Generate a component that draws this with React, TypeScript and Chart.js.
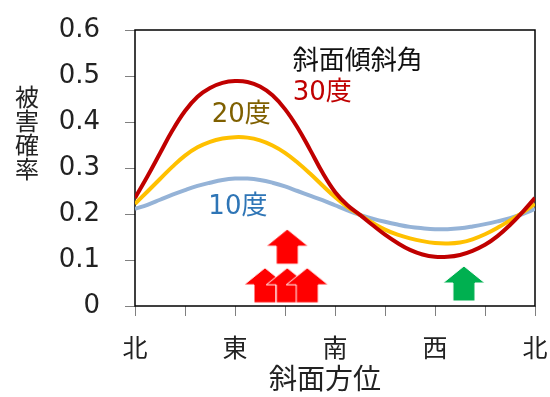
import React, { useEffect, useRef } from 'react';
import { Chart, registerables } from 'chart.js';
Chart.register(...registerables);

// Slope aspect in degrees (0 = 北, 90 = 東, 180 = 南, 270 = 西, 360 = 北)
const ANGLES = [
  0, 11.25, 22.5, 33.75, 45, 56.25, 67.5, 78.75, 90, 101.25, 112.5, 123.75, 135, 146.25, 157.5, 168.75,
  180, 191.25, 202.5, 213.75, 225, 236.25, 247.5, 258.75, 270, 281.25, 292.5, 303.75, 315, 326.25, 337.5, 348.75, 360,
];
const SLOPE_30 = [
  0.235, 0.282, 0.332, 0.382, 0.424, 0.455, 0.474, 0.485, 0.489, 0.487, 0.477, 0.458, 0.428, 0.388, 0.340, 0.290,
  0.248, 0.219, 0.198, 0.176, 0.155, 0.137, 0.122, 0.112, 0.107, 0.107, 0.111, 0.120, 0.133, 0.152, 0.176, 0.204, 0.235,
];
const SLOPE_20 = [
  0.222, 0.249, 0.276, 0.303, 0.327, 0.345, 0.357, 0.364, 0.367, 0.366, 0.360, 0.349, 0.333, 0.312, 0.288, 0.262,
  0.237, 0.215, 0.198, 0.181, 0.166, 0.155, 0.147, 0.141, 0.137, 0.136, 0.138, 0.145, 0.156, 0.170, 0.186, 0.203, 0.222,
];
const SLOPE_10 = [
  0.211, 0.220, 0.231, 0.242, 0.252, 0.261, 0.268, 0.274, 0.277, 0.277, 0.274, 0.268, 0.260, 0.250, 0.240, 0.230,
  0.219, 0.208, 0.198, 0.190, 0.183, 0.177, 0.172, 0.169, 0.167, 0.167, 0.169, 0.173, 0.178, 0.184, 0.191, 0.200, 0.211,
];

const X_TICK_LABELS = ['北', '', '東', '', '南', '', '西', '', '北'];
const X_TITLE = '斜面方位';
const Y_TITLE = '被害確率';

// Arrow markers (aspect, value at arrow centre)
const RED_ARROW_X = [117, 137, 155, 137];
const RED_ARROW_Y = [0.045, 0.045, 0.045, 0.129];
const GREEN_ARROW_X = [296];
const GREEN_ARROW_Y = [0.049];

// In-plot labels
const LABEL_TEXTS = ['斜面傾斜角', '30度', '20度', '10度'];
const LABEL_X = [142, 142, 69, 66];
const LABEL_Y = [0.530, 0.463, 0.415, 0.215];
const LABEL_COLORS = ['#111111', '#C00000', '#7F6000', '#2E75B6'];

const FONT = '"DejaVu Sans", "Noto Sans CJK JP", sans-serif';

function makeArrow(color: string): HTMLCanvasElement {
  const c = document.createElement('canvas');
  c.width = 44;
  c.height = 37;
  const g = c.getContext('2d')!;
  g.beginPath();
  g.moveTo(22, 1);
  g.lineTo(43, 18);
  g.lineTo(33, 18);
  g.lineTo(33, 36);
  g.lineTo(11, 36);
  g.lineTo(11, 18);
  g.lineTo(1, 18);
  g.closePath();
  g.fillStyle = color;
  g.fill();
  g.strokeStyle = '#ffffff';
  g.lineWidth = 1;
  g.stroke();
  return c;
}

const overlay = {
  id: 'overlay',
  beforeDatasetsDraw(chart: any) {
    const { ctx, chartArea } = chart;
    ctx.save();
    ctx.strokeStyle = '#000';
    ctx.lineWidth = 1.5;
    ctx.strokeRect(chartArea.left, chartArea.top, chartArea.right - chartArea.left, chartArea.bottom - chartArea.top);
    ctx.restore();
  },
  afterDatasetsDraw(chart: any) {
    const { ctx, chartArea, scales } = chart;
    ctx.save();
    ctx.textBaseline = 'middle';
    ctx.textAlign = 'left';
    ctx.font = `26px ${FONT}`;
    LABEL_TEXTS.forEach((t, i) => {
      ctx.fillStyle = LABEL_COLORS[i];
      ctx.fillText(t, scales.x.getPixelForValue(LABEL_X[i]), scales.y.getPixelForValue(LABEL_Y[i]));
    });
    // x title
    ctx.fillStyle = '#222';
    ctx.textAlign = 'center';
    ctx.font = `28px ${FONT}`;
    ctx.fillText(X_TITLE, (chartArea.left + chartArea.right) / 2 - 10, chartArea.bottom + 76);
    // y title, stacked vertically
    ctx.font = `24px ${FONT}`;
    const chars = Array.from(Y_TITLE);
    const cy = (chartArea.top + chartArea.bottom) / 2 - 32;
    chars.forEach((ch, i) => {
      ctx.fillText(ch, 27, cy + (i - (chars.length - 1) / 2) * 24);
    });
    ctx.restore();
  },
};

export default function App() {
  const ref = useRef<HTMLCanvasElement>(null);
  useEffect(() => {
    if (!ref.current) return;
    const redArrow = makeArrow('#FF0000');
    const greenArrow = makeArrow('#00B050');
    const line = (vals: number[], color: string, order: number) => ({
      type: 'line' as const,
      data: ANGLES.map((a, i) => ({ x: a, y: vals[i] })),
      borderColor: color,
      backgroundColor: color,
      borderWidth: 4,
      pointRadius: 0,
      fill: false,
      tension: 0.4,
      order,
    });
    const chart = new Chart(ref.current, {
      type: 'line',
      data: {
        datasets: [
          line(SLOPE_30, '#C00000', 0),
          line(SLOPE_20, '#FFC000', 1),
          line(SLOPE_10, '#95B3D7', 2),
          {
            type: 'line',
            data: RED_ARROW_X.map((x, i) => ({ x, y: RED_ARROW_Y[i] })),
            showLine: false,
            pointStyle: redArrow,
            pointRadius: 10,
            order: 3,
          } as any,
          {
            type: 'line',
            data: GREEN_ARROW_X.map((x, i) => ({ x, y: GREEN_ARROW_Y[i] })),
            showLine: false,
            pointStyle: greenArrow,
            pointRadius: 10,
            order: 3,
          } as any,
        ],
      },
      options: {
        animation: false,
        responsive: false,
        events: [],
        layout: { padding: { top: 30, right: 15, left: 0, bottom: 0 } },
        plugins: { legend: { display: false }, tooltip: { enabled: false } },
        scales: {
          x: {
            type: 'linear',
            min: 0,
            max: 360,
            afterFit: (s: any) => { s.height = 91; s.paddingLeft = 0; s.paddingRight = 0; s.paddingTop = 0; s.paddingBottom = 0; },
            border: { display: false },
            grid: { drawOnChartArea: false, drawTicks: true, tickLength: 10, color: '#808080', lineWidth: 1 },
            ticks: {
              stepSize: 45,
              autoSkip: false,
              maxRotation: 0,
              padding: 19,
              color: '#222',
              font: { size: 25, family: FONT },
              callback: (_v: any, i: number) => X_TICK_LABELS[i],
            },
          },
          y: {
            min: 0,
            max: 0.6,
            afterFit: (s: any) => { s.width = 135; s.paddingLeft = 0; s.paddingRight = 0; s.paddingTop = 0; s.paddingBottom = 0; },
            border: { display: false },
            grid: { drawOnChartArea: false, drawTicks: true, tickLength: 10, color: '#808080', lineWidth: 1 },
            ticks: {
              stepSize: 0.1,
              padding: 25,
              color: '#222',
              font: { size: 26, family: FONT },
              callback: (v: any) => (Number(v) === 0 ? '0' : Number(v).toFixed(1)),
            },
          },
        },
      },
      plugins: [overlay],
    });
    return () => chart.destroy();
  }, []);
  return (
    <div style={{ position: 'fixed', left: 0, top: 0, width: 550, height: 397, background: '#fff' }}>
      <canvas ref={ref} width={550} height={397} style={{ width: 550, height: 397 }} />
    </div>
  );
}
